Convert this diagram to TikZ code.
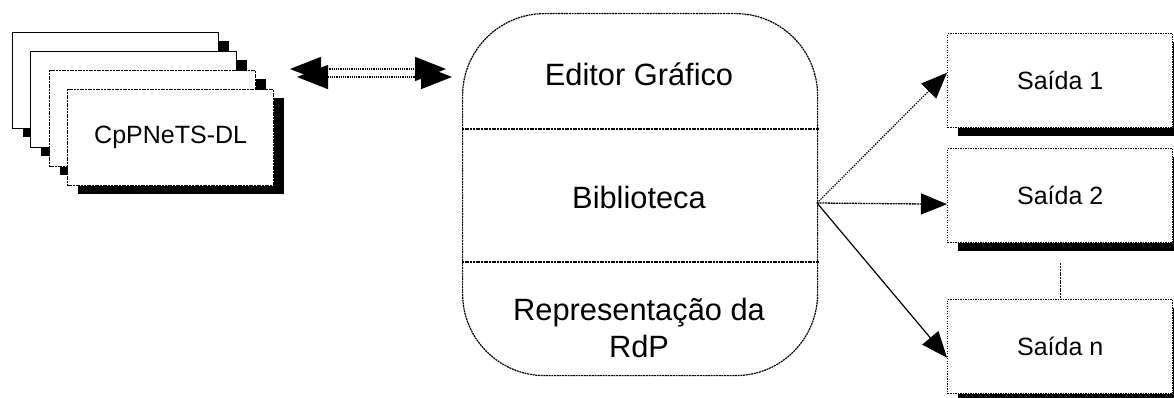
\documentclass[tikz,border=0pt]{standalone}
\usepackage{fontspec}
\setmainfont{Liberation Sans}
\usetikzlibrary{arrows.meta,shadows}
\begin{document}
\begin{tikzpicture}[x=1pt,y=-1pt,
  fdot/.style={dash pattern=on 1.3pt off 1.2pt},
  fdash/.style={dash pattern=on 2pt off 0.7pt},
  shad/.style={drop shadow={shadow xshift=10pt,shadow yshift=-8pt,fill=black,opacity=1}},
  docbox/.style={draw,fill=white,line width=1.3pt,minimum width=206pt,minimum height=96pt,inner sep=0pt,anchor=north west,shad},
  outbox/.style={draw,fill=white,line width=1.4pt,fdot,minimum width=225pt,minimum height=94pt,inner sep=0pt,anchor=north west,shad,font=\fontsize{25}{30}\selectfont},
  bigtxt/.style={font=\fontsize{30.8}{37}\selectfont,align=center,inner sep=0pt},
  tip/.style={-{Triangle[length=26pt,width=21pt]}},
  dtip/.style={{Triangle[length=31pt,width=24pt]}-{Triangle[length=31pt,width=24pt]}}
]
\useasboundingbox (0,0) rectangle (1174,398);
% stacked documents
\node[docbox] (d1) at (12,32) {};
\node[docbox] (d2) at (30,51) {};
\node[docbox,fdash] (d3) at (49,70) {};
\node[docbox,fdash,font=\fontsize{25}{30}\selectfont] (d4) at (67,89) {CpPNeTS-DL};
% double arrow
\coordinate (p1) at (290,69); \coordinate (p2) at (446,69);
\coordinate (q1) at (297,77); \coordinate (q2) at (452,77);
\draw[dtip,line width=1.4pt,dash pattern=on 1.2pt off 1pt] (p1) -- (p2);
\draw[dtip,line width=1.4pt,dash pattern=on 1.2pt off 1pt] (q1) -- (q2);
% central box
\node[draw,fdash,line width=1.2pt,rounded corners=82pt,minimum width=355pt,minimum height=362pt,anchor=north west,inner sep=0pt] (lib) at (462,13) {};
\coordinate (l1a) at (462,129); \coordinate (l1b) at (819,129);
\coordinate (l2a) at (462,262); \coordinate (l2b) at (819,262);
\draw[fdash,line width=1.2pt] (l1a) -- (l1b);
\draw[fdash,line width=1.2pt] (l2a) -- (l2b);
\node[bigtxt] (ed) at (639,74) {Editor Gráfico};
\node[bigtxt] (bib) at (639,197) {Biblioteca};
\node[bigtxt] (rep) at (639,328) {Representação da\\RdP};
% outputs
\node[outbox] (s1) at (947,33) {Saída 1};
\node[outbox] (s2) at (947,148) {Saída 2};
\node[outbox] (sn) at (947,299) {Saída n};
\coordinate (src) at (817,203);
\draw[tip,fdot,line width=1.3pt] (src) -- ([yshift=8pt]s1.west);
\draw[tip,fdash,line width=1.3pt] (src) -- ([yshift=-8.5pt]s2.west);
\draw[tip,line width=1.2pt] (src) -- ([yshift=-11pt]sn.west);
\draw[fdash,line width=1.2pt] ([yshift=-20pt]s2.south) -- (sn.north);
\end{tikzpicture}
\end{document}
